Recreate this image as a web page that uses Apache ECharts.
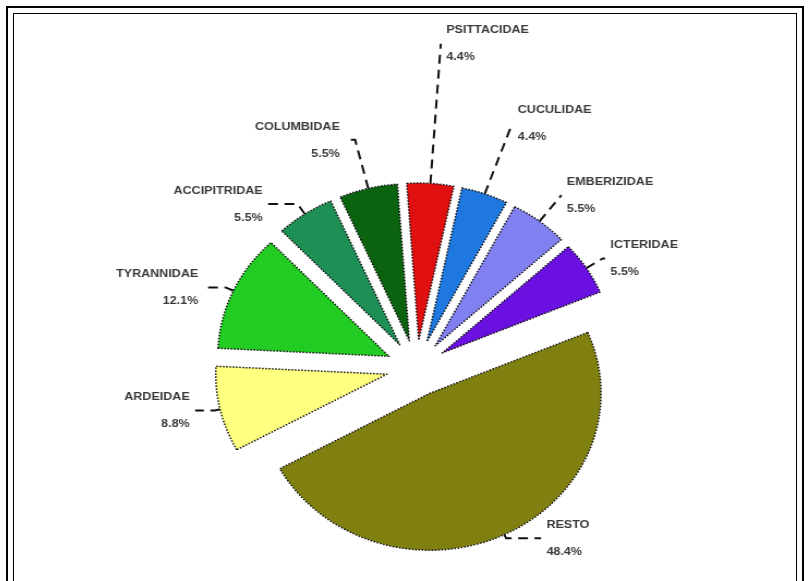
<!DOCTYPE html>
<html>
<head>
<meta charset="utf-8">
<script src="https://cdn.jsdelivr.net/npm/echarts@6/dist/echarts.min.js"></script>
<style>
html,body{margin:0;padding:0;background:#fff;}
#wrap{position:relative;width:809px;height:581px;overflow:hidden;background:#fff;}
#chart{position:absolute;left:0;top:0;width:809px;height:581px;transform:scaleX(1.09);transform-origin:409px 290px;}
.frame{position:absolute;box-sizing:border-box;pointer-events:none;}
#f1{left:6px;top:6px;width:798px;height:590px;border:2.5px solid #000;}
#f2{left:13px;top:13px;width:784px;height:590px;border:1px solid #000;}
</style>
</head>
<body>
<div id="wrap">
  <div id="chart"></div>
  <div class="frame" id="f1"></div>
  <div class="frame" id="f2"></div>
</div>
<script>
// Data (percent of species per family)
const categories = ['PSITTACIDAE','CUCULIDAE','EMBERIZIDAE','ICTERIDAE','RESTO','ARDEIDAE','TYRANNIDAE','ACCIPITRIDAE','COLUMBIDAE'];
const percents = [4.4, 4.4, 5.5, 5.5, 48.4, 8.8, 12.1, 5.5, 5.5];

// Styling
const colors = ['#e01010','#1f78e0','#8080f0','#6a10e0','#808010','#ffff80','#22cc22','#1e8f55','#0b6310'];
const lineLen1 = [140, 75, 33, 18, 4, 5, 8, 12, 50];
const lineLen2 = [0, 0, 0, 2, 32, 18, 20, 27, 9];

const chart = echarts.init(document.getElementById('chart'), null, {renderer:'canvas'});

const data = categories.map((name, i) => ({
  name: name,
  value: percents[i],
  selected: true,
  itemStyle: { color: colors[i] },
  labelLine: { length: lineLen1[i], length2: lineLen2[i] }
}));

chart.setOption({
  animation: false,
  backgroundColor: 'transparent',
  series: [{
    type: 'pie',
    center: [416, 368],
    radius: [0, 157],
    startAngle: 94,
    clockwise: true,
    selectedMode: 'multiple',
    selectedOffset: 28,
    avoidLabelOverlap: false,
    emphasis: { disabled: true },
    itemStyle: {
      borderColor: '#111',
      borderWidth: 1.5,
      borderType: 'dotted'
    },
    select: {
      itemStyle: { borderColor: '#111', borderWidth: 1.5, borderType: 'dotted' }
    },
    label: {
      show: true,
      formatter: '{b}\n{c}%',
      fontFamily: 'Liberation Sans',
      fontSize: 11.5,
      fontWeight: 'bold',
      lineHeight: 27,
      color: '#3a3a3a'
    },
    labelLine: {
      show: true,
      lineStyle: { color: '#111', width: 2, type: [9, 6] }
    },
    data: data
  }]
});
</script>
</body>
</html>
